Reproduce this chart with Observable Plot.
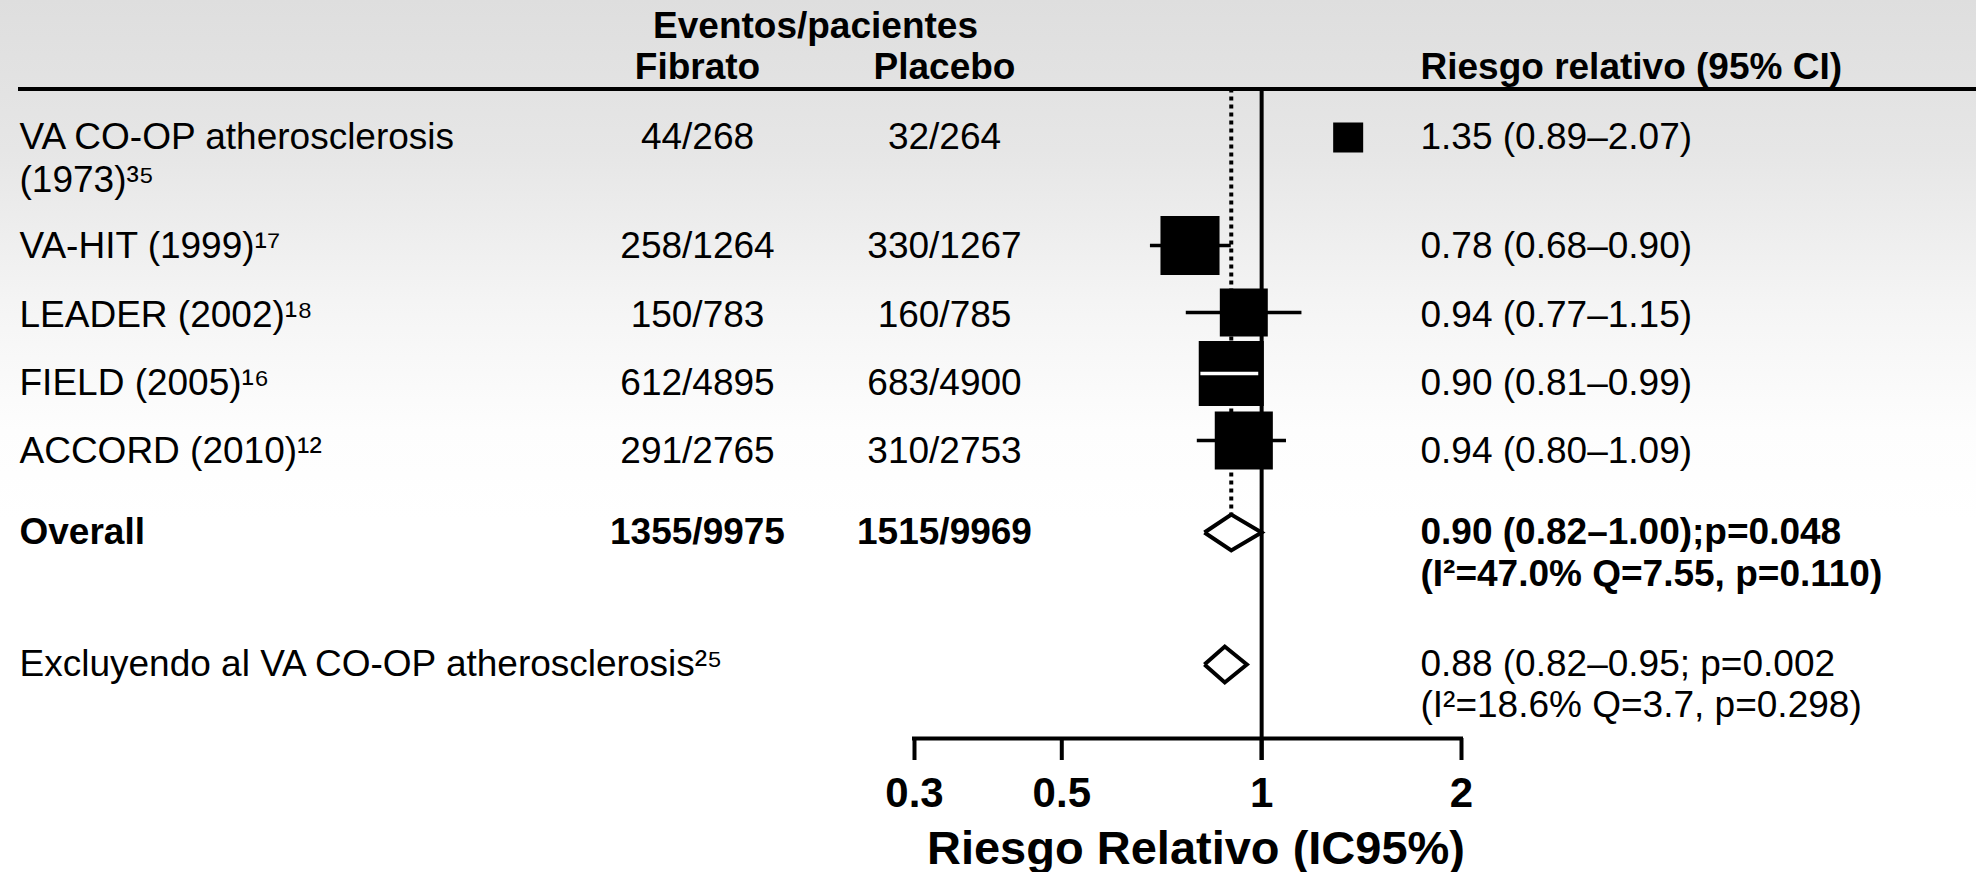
<!DOCTYPE html>
<html>
<head>
<meta charset="utf-8">
<script src="https://cdn.jsdelivr.net/npm/d3@7"></script>
<script src="https://cdn.jsdelivr.net/npm/@observablehq/plot@0.6"></script>
<style>
html, body { margin: 0; padding: 0; }
body {
  width: 1976px; height: 872px; overflow: hidden;
  background: linear-gradient(to bottom, #dedede 0px, #e6e6e6 150px, #f4f4f4 300px, #fdfdfd 430px, #ffffff 520px);
}
#chart svg { display: block; }
</style>
</head>
<body>
<div id="chart"></div>
<script>
// ---------------- data ----------------
const studies = ["VA CO-OP atherosclerosis\n(1973)³⁵", "VA-HIT (1999)¹⁷", "LEADER (2002)¹⁸", "FIELD (2005)¹⁶", "ACCORD (2010)¹²"];
const fibrato = ["44/268", "258/1264", "150/783", "612/4895", "291/2765"];
const placebo = ["32/264", "330/1267", "160/785", "683/4900", "310/2753"];
const rr = [1.35, 0.78, 0.94, 0.90, 0.94];
const lo = [0.89, 0.68, 0.77, 0.81, 0.80];
const hi = [2.07, 0.90, 1.15, 0.99, 1.09];
const weight = [6.3, 24.4, 16.1, 29.6, 23.6];      // box area ∝ weight
const ciShown = [false, true, true, true, true];

const summaryLabels = ["Overall", "Excluyendo al VA CO-OP atherosclerosis²⁵"];
const summaryFibrato = ["1355/9975", ""];
const summaryPlacebo = ["1515/9969", ""];
const summaryRR = [0.90, 0.88];
const summaryLo = [0.82, 0.82];
const summaryHi = [1.00, 0.95];
const summaryText = [
  "0.90 (0.82–1.00);p=0.048\n(I²=47.0% Q=7.55, p=0.110)",
  "0.88 (0.82–0.95; p=0.002\n(I²=18.6% Q=3.7, p=0.298)"
];
const summaryBold = [true, false];

const groupHeader = "Eventos/pacientes";
const columnHeads = ["Fibrato", "Placebo", "Riesgo relativo (95% CI)"];
const xTicks = [0.3, 0.5, 1, 2];
const xTitle = "Riesgo Relativo (IC95%)";

// ---------------- layout (y scale rows) ----------------
const sKeys = ["s0", "s1", "s2", "s3", "s4"];   // text rows
const bKeys = ["b0", "b1", "b2", "b3", "b4"];   // marker rows
const mKeys = ["m0", "m1"];
const rowLayout = [
  ["group", 26], ["colhead", 67], ["rule", 88.5],
  ["s0", 137], ["b0", 137],
  ["s1", 246], ["b1", 245],
  ["s2", 315], ["b2", 312],
  ["s3", 383], ["b3", 373],
  ["s4", 451], ["b4", 440],
  ["m0top", 514], ["m0", 532], ["m0bot", 550],
  ["m1top", 646], ["m1", 664], ["m1bot", 682],
  ["axis", 738], ["tick", 760], ["tickLabel", 793], ["axisTitle", 848]
];

const FONT = "'Liberation Sans', Arial, Helvetica, sans-serif";
const FS = 37;
// place first-line cap centre on the row centre whatever the line height
const textPos = (lh, fs) => ({lineAnchor: "top", lineHeight: lh, fontSize: fs, dy: (0.32 - 0.71 * lh) * fs});

const xOpts = {type: "log", domain: [0.3, 2], range: [914, 1461]};
const rOpts = {type: "sqrt", domain: [0, d3.max(weight)], range: [0, 36.7]};
const xs = Plot.scale({x: xOpts});
const rs = Plot.scale({r: rOpts});

const studyData = studies.map((label, i) => {
  const half = rs.apply(weight[i]) * Math.sqrt(Math.PI) / 2;
  const cx = xs.apply(rr[i]);
  return {
    key: sKeys[i], bkey: bKeys[i], label, fib: fibrato[i], pla: placebo[i],
    rr: rr[i], lo: lo[i], hi: hi[i], w: weight[i], ci: ciShown[i],
    inside: xs.apply(lo[i]) >= cx - half && xs.apply(hi[i]) <= cx + half,
    txt: `${rr[i].toFixed(2)} (${lo[i].toFixed(2)}–${hi[i].toFixed(2)})`
  };
});
const sumData = summaryLabels.map((label, i) => ({
  key: mKeys[i], label, fib: summaryFibrato[i], pla: summaryPlacebo[i],
  rr: summaryRR[i], lo: summaryLo[i], hi: summaryHi[i], txt: summaryText[i], bold: summaryBold[i]
}));
const diamondPts = sumData.flatMap(d => [
  {z: d.key, x: d.lo, y: d.key},
  {z: d.key, x: d.rr, y: d.key + "top"},
  {z: d.key, x: d.hi, y: d.key},
  {z: d.key, x: d.rr, y: d.key + "bot"},
  {z: d.key, x: d.lo, y: d.key}
]);

const colX = {label: 19, fib: 697, pla: 944, group: 815, rr: 1420};
const boldSum = sumData.filter(d => d.bold);
const regSum = sumData.filter(d => !d.bold);

const plot = Plot.plot({
  width: 1976, height: 872,
  marginTop: 0, marginRight: 0, marginBottom: 0, marginLeft: 0,
  style: {background: "transparent", fontFamily: FONT, color: "black", overflow: "visible"},
  x: {...xOpts, axis: null},
  y: {type: "ordinal", domain: rowLayout.map(d => d[0]), range: rowLayout.map(d => d[1]), axis: null},
  r: rOpts,
  marks: [
    // header rule
    Plot.ruleY([0], {y: () => "rule", insetLeft: 18, stroke: "black", strokeWidth: 4}),
    // reference lines
    Plot.ruleX([1], {x: d => d, y1: () => "rule", y2: () => "tick", stroke: "black", strokeWidth: 4}),
    Plot.ruleX([summaryRR[0]], {x: d => d, y1: () => "rule", y2: () => "m0top", stroke: "black", strokeWidth: 4, strokeDasharray: "4,4"}),
    // axis
    Plot.ruleY([0], {y: () => "axis", x1: () => d3.min(xTicks), x2: () => d3.max(xTicks), stroke: "black", strokeWidth: 4, strokeLinecap: "square"}),
    Plot.ruleX(xTicks, {x: d => d, y1: () => "axis", y2: () => "tick", stroke: "black", strokeWidth: 4}),
    Plot.text(xTicks, {x: d => d, y: () => "tickLabel", text: d => String(d), fontWeight: "bold", ...textPos(1, 42), textAnchor: "middle"}),
    Plot.text([xTitle], {x: () => Math.sqrt(d3.min(xTicks) * d3.max(xTicks)), dx: 8, y: () => "axisTitle", text: d => d, fontWeight: "bold", ...textPos(1, 47), textAnchor: "middle"}),
    // CI lines and boxes
    Plot.ruleY(studyData.filter(d => d.ci), {y: "bkey", x1: "lo", x2: "hi", stroke: "black", strokeWidth: 3.5}),
    Plot.dot(studyData, {x: "rr", y: "bkey", r: "w", symbol: "square", fill: "black", stroke: "none"}),
    Plot.ruleY(studyData.filter(d => d.ci && d.inside), {y: "bkey", x1: "lo", x2: "hi", stroke: "white", strokeWidth: 3.5}),
    // summary diamonds
    Plot.line(diamondPts, {x: "x", y: "y", z: "z", fill: "white", stroke: "black", strokeWidth: 4, strokeLinejoin: "miter", strokeMiterlimit: 10, strokeLinecap: "butt"}),
    // column headers
    Plot.text([groupHeader], {frameAnchor: "left", dx: colX.group, y: () => "group", text: d => d, fontWeight: "bold", textAnchor: "middle", ...textPos(1, FS)}),
    Plot.text([columnHeads[0]], {frameAnchor: "left", dx: colX.fib, y: () => "colhead", text: d => d, fontWeight: "bold", textAnchor: "middle", ...textPos(1, FS)}),
    Plot.text([columnHeads[1]], {frameAnchor: "left", dx: colX.pla, y: () => "colhead", text: d => d, fontWeight: "bold", textAnchor: "middle", ...textPos(1, FS)}),
    Plot.text([columnHeads[2]], {frameAnchor: "left", dx: colX.rr, y: () => "colhead", text: d => d, fontWeight: "bold", textAnchor: "start", ...textPos(1, FS)}),
    // study rows
    Plot.text(studyData, {frameAnchor: "left", dx: colX.label, y: "key", text: "label", textAnchor: "start", ...textPos(1.16, FS)}),
    Plot.text(studyData, {frameAnchor: "left", dx: colX.fib, y: "key", text: "fib", textAnchor: "middle", ...textPos(1.16, FS)}),
    Plot.text(studyData, {frameAnchor: "left", dx: colX.pla, y: "key", text: "pla", textAnchor: "middle", ...textPos(1.16, FS)}),
    Plot.text(studyData, {frameAnchor: "left", dx: colX.rr, y: "key", text: "txt", textAnchor: "start", ...textPos(1.16, FS)}),
    // summary rows (bold)
    Plot.text(boldSum, {frameAnchor: "left", dx: colX.label, y: "key", text: "label", textAnchor: "start", fontWeight: "bold", ...textPos(1.12, FS)}),
    Plot.text(boldSum, {frameAnchor: "left", dx: colX.fib, y: "key", text: "fib", textAnchor: "middle", fontWeight: "bold", ...textPos(1.12, FS)}),
    Plot.text(boldSum, {frameAnchor: "left", dx: colX.pla, y: "key", text: "pla", textAnchor: "middle", fontWeight: "bold", ...textPos(1.12, FS)}),
    Plot.text(boldSum, {frameAnchor: "left", dx: colX.rr, y: "key", text: "txt", textAnchor: "start", fontWeight: "bold", ...textPos(1.12, FS)}),
    // summary rows (regular)
    Plot.text(regSum, {frameAnchor: "left", dx: colX.label, y: "key", text: "label", textAnchor: "start", ...textPos(1.1, FS)}),
    Plot.text(regSum, {frameAnchor: "left", dx: colX.rr, y: "key", text: "txt", textAnchor: "start", ...textPos(1.1, FS)})
  ]
});
document.getElementById("chart").appendChild(plot);
</script>
</body>
</html>
